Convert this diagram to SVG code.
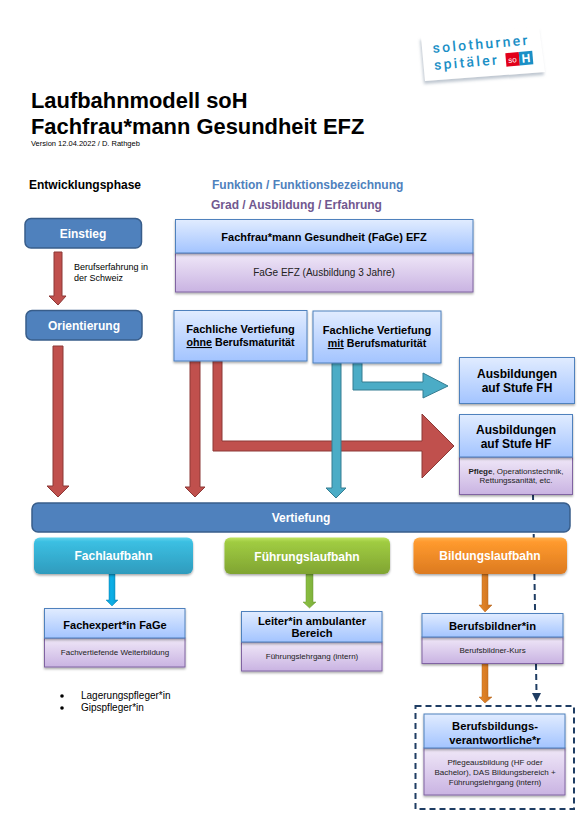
<svg xmlns="http://www.w3.org/2000/svg" width="588" height="839" viewBox="0 0 588 839">
<style>
text{font-family:"Liberation Sans",Arial,sans-serif;fill:#000}
.b{font-weight:bold}
.c{text-anchor:middle}
.w{fill:#fff;font-weight:bold;text-anchor:middle;font-size:12px}
.t{font-weight:bold;text-anchor:middle;font-size:11.200px}
.s{text-anchor:middle;font-size:8px;fill:#222}
.logo{font-size:14px;letter-spacing:2.300px;fill:#1a8fc6;font-family:Roboto,sans-serif;font-weight:500}
.phase{fill:#4f81bd;stroke:#385d8a;stroke-width:1.500}
.blue{fill:url(#gb);stroke:#4f81bd;stroke-width:1;filter:url(#sh)}
.pur{fill:url(#gp);stroke:#8064a2;stroke-width:1;filter:url(#sh)}
.red{fill:#c0504d;stroke:#8c3836;stroke-width:1}
.teal{fill:#4bacc6;stroke:#357d91;stroke-width:1}
</style>
<defs>
<linearGradient id="gb" x1="0" y1="0" x2="0" y2="1"><stop offset="0" stop-color="#e1ecff"/><stop offset="1" stop-color="#a3c4ff"/></linearGradient>
<linearGradient id="gp" x1="0" y1="0" x2="0" y2="1"><stop offset="0" stop-color="#f0e8f8"/><stop offset="1" stop-color="#c9b3e2"/></linearGradient>
<linearGradient id="gc" x1="0" y1="0" x2="0" y2="1"><stop offset="0" stop-color="#5fd4ee"/><stop offset=".12" stop-color="#3bbfe2"/><stop offset="1" stop-color="#2f9bbd"/></linearGradient>
<linearGradient id="gg" x1="0" y1="0" x2="0" y2="1"><stop offset="0" stop-color="#bfe560"/><stop offset=".12" stop-color="#a0cc42"/><stop offset="1" stop-color="#80a432"/></linearGradient>
<linearGradient id="go" x1="0" y1="0" x2="0" y2="1"><stop offset="0" stop-color="#ffb14e"/><stop offset=".12" stop-color="#ff9a2e"/><stop offset="1" stop-color="#dc7a20"/></linearGradient>
<linearGradient id="ga" x1="0" y1="0" x2="1" y2="0"><stop offset="0" stop-color="#0f9ed5"/><stop offset=".5" stop-color="#0bb0e8"/><stop offset="1" stop-color="#0f8fc0"/></linearGradient>
<linearGradient id="ag" x1="0" y1="0" x2="1" y2="0"><stop offset="0" stop-color="#8fc444"/><stop offset="1" stop-color="#7bad3a"/></linearGradient>
<linearGradient id="ao" x1="0" y1="0" x2="1" y2="0"><stop offset="0" stop-color="#e98a2b"/><stop offset="1" stop-color="#c96f1e"/></linearGradient>
<filter id="sh" x="-5%" y="-10%" width="110%" height="125%"><feDropShadow dx="0" dy="1.500" stdDeviation="1" flood-color="#000" flood-opacity=".35"/></filter>
<filter id="lg" x="-10%" y="-10%" width="120%" height="130%"><feDropShadow dx="-1" dy="3" stdDeviation="1.500" flood-color="#8a9aaa" flood-opacity=".55"/></filter>
</defs>

<g id="logo">
<polygon points="421,37 539,27 545,72 425,81" fill="#fff" filter="url(#lg)"/>
<g transform="rotate(-5 433 53)">
<text x="433" y="53" class="logo">solothurner</text>
<text x="433" y="70" class="logo">spitäler</text>
<rect x="505" y="59.500" width="13.500" height="13.500" fill="#e2001a"/>
<rect x="518.500" y="59.500" width="13.500" height="13.500" fill="#1a8fc6"/>
<text x="511.700" y="69.500" class="c" style="font-size:8px;fill:#fff">so</text>
<text x="525.200" y="70.500" class="c b" style="font-size:12px;fill:#fff">H</text>
</g>
</g>

<g id="heading">
<text x="31" y="108" class="b" style="font-size:21.900px">Laufbahnmodell soH</text>
<text x="31" y="134" class="b" style="font-size:21.900px">Fachfrau*mann Gesundheit EFZ</text>
<text x="31" y="146" style="font-size:7.500px">Version 12.04.2022 / D. Rathgeb</text>
<text x="29" y="189" class="b" style="font-size:12px">Entwicklungsphase</text>
<text x="212" y="189" class="b" style="font-size:12px;fill:#4f81bd">Funktion / Funktionsbezeichnung</text>
<text x="211" y="209" class="b" style="font-size:12px;fill:#71588f">Grad / Ausbildung / Erfahrung</text>
</g>

<g id="connectors">
<path d="M533 494L536.500 693" fill="none" stroke="#1f3d63" stroke-width="2" stroke-dasharray="6 4"/>
<polygon points="532,693 541,693 536.500,702" fill="#1f3d63"/>
<polygon class="red" points="54,252 62,252 62,296 66,296 58,305 49,296 54,296"/>
<polygon class="red" points="53,346 63,346 63,486 69,486 58,497 47,486 53,486"/>
<polygon class="red" points="190,361 200,361 200,487 205,487 195,497 185,487 190,487"/>
<polygon class="red" points="213,361 222,361 222,441 422,441 422,414 454,446 422,478 422,451 213,451"/>
<polygon class="teal" points="332,363 341,363 341,488 346,488 336,498 326,488 332,488"/>
<polygon class="teal" points="353,363 362,363 362,382 423,382 423,373 448,386 423,398 423,390 353,390"/>
<polygon fill="url(#ga)" stroke="#0b87b5" stroke-width=".5" points="109,574 115,574 115,600 118,600 112,606 106,600 109,600"/>
<polygon fill="url(#ag)" stroke="#6a9633" stroke-width=".5" points="306,574 313,574 313,602 316,602 309.500,608 303,602 306,602"/>
<polygon fill="url(#ao)" stroke="#b5651d" stroke-width=".5" points="482,574 488,574 488,605 492,605 485,612 479,605 482,605"/>
<polygon fill="url(#ao)" stroke="#b5651d" stroke-width=".5" points="482,663 488,663 488,697 492,697 485,703 479,697 482,697"/>
</g>

<g id="einstieg"><rect class="phase" x="25" y="218.500" width="116.500" height="29.500" rx="6"/><text class="w" x="83" y="238">Einstieg</text></g>
<g id="note"><text x="74" y="270" style="font-size:9px">Berufserfahrung in</text><text x="74" y="280.500" style="font-size:9px">der Schweiz</text></g>
<g id="orientierung"><rect class="phase" x="26" y="310.500" width="116" height="29.500" rx="6"/><text class="w" x="84" y="330">Orientierung</text></g>

<g id="fage"><rect class="pur" x="175.500" y="253" width="297.500" height="39"/><rect class="blue" x="175.500" y="219.500" width="297.500" height="33.500"/>
<text class="t" x="324" y="241" style="font-size:11px">Fachfrau*mann Gesundheit (FaGe) EFZ</text><text class="s" x="324" y="276" style="font-size:10px">FaGe EFZ (Ausbildung 3 Jahre)</text></g>

<g id="ohne"><rect class="blue" x="174" y="310.500" width="133" height="50.500"/>
<text class="t" x="240.500" y="333" style="font-size:11.100px">Fachliche Vertiefung</text><text class="t" x="240.500" y="346" style="font-size:10.700px"><tspan text-decoration="underline">ohne</tspan> Berufsmaturität</text></g>
<g id="mit"><rect class="blue" x="313" y="311" width="128" height="52"/>
<text class="t" x="377" y="334" style="font-size:11.100px">Fachliche Vertiefung</text><text class="t" x="377" y="347" style="font-size:10.700px"><tspan text-decoration="underline">mit</tspan> Berufsmaturität</text></g>

<g id="fh"><rect class="blue" x="459.500" y="357.500" width="115" height="46"/>
<text class="t" x="517" y="378" style="font-size:12px">Ausbildungen</text><text class="t" x="517" y="392" style="font-size:12px">auf Stufe FH</text></g>
<g id="hf"><rect class="pur" x="459.500" y="457" width="113" height="37.500"/><rect class="blue" x="459.500" y="414.500" width="113" height="42.500"/>
<text class="t" x="516" y="434" style="font-size:12px">Ausbildungen</text><text class="t" x="516" y="448" style="font-size:12px">auf Stufe HF</text>
<text class="s" x="516" y="474"><tspan font-weight="bold">Pflege</tspan>, Operationstechnik,</text><text class="s" x="516" y="483">Rettungssanität, etc.</text></g>

<g id="vertiefung"><rect class="phase" x="32" y="503" width="538" height="29" rx="6"/><text class="w" x="301" y="522">Vertiefung</text></g>

<g id="fachlaufbahn"><rect x="34" y="537.500" width="159" height="36.500" rx="6" fill="url(#gc)" filter="url(#sh)"/><text class="w" x="113.500" y="560">Fachlaufbahn</text></g>
<g id="fuehrungslaufbahn"><rect x="224.500" y="537.500" width="165.500" height="36.500" rx="6" fill="url(#gg)" filter="url(#sh)"/><text class="w" x="307" y="561">Führungslaufbahn</text></g>
<g id="bildungslaufbahn"><rect x="413.500" y="537.500" width="153.500" height="36.500" rx="6" fill="url(#go)" filter="url(#sh)"/><text class="w" x="490" y="560">Bildungslaufbahn</text></g>

<g id="fachexpert"><rect class="pur" x="44.500" y="638" width="140.500" height="29"/><rect class="blue" x="44.500" y="608.500" width="140.500" height="29.500"/>
<text class="t" x="115" y="629" style="font-size:11px">Fachexpert*in FaGe</text><text class="s" x="115" y="655">Fachvertiefende Weiterbildung</text></g>
<g id="leiter"><rect class="pur" x="241.500" y="642" width="140.500" height="29"/><rect class="blue" x="241.500" y="611.500" width="140.500" height="30.500"/>
<text class="t" x="312" y="625">Leiter*in ambulanter</text><text class="t" x="312" y="637">Bereich</text><text class="s" x="312" y="659">Führungslehrgang (intern)</text></g>
<g id="berufsbildner"><rect class="pur" x="422" y="637" width="141" height="26.500"/><rect class="blue" x="422" y="613.500" width="141" height="23.500"/>
<text class="t" x="492.500" y="630">Berufsbildner*in</text><text class="s" x="492.500" y="653">Berufsbildner-Kurs</text></g>
<g id="list"><circle cx="62" cy="696" r="1.800"/><circle cx="62" cy="708" r="1.800"/><text x="81" y="699" style="font-size:10px">Lagerungspfleger*in</text><text x="81" y="711" style="font-size:10px">Gipspfleger*in</text></g>

<g id="group-bbv"><rect x="415.500" y="706" width="158.500" height="103" fill="none" stroke="#1f3d63" stroke-width="2" stroke-dasharray="6 4"/></g>
<g id="bbv"><rect class="pur" x="424" y="748" width="141" height="47"/><rect class="blue" x="424" y="714" width="141" height="34"/>
<text class="t" x="495" y="730">Berufsbildungs-</text><text class="t" x="495" y="744">verantwortliche*r</text>
<text class="s" x="495" y="765">Pflegeausbildung (HF oder</text><text class="s" x="495" y="775">Bachelor), DAS Bildungsbereich +</text><text class="s" x="495" y="785">Führungslehrgang (intern)</text></g>
</svg>
